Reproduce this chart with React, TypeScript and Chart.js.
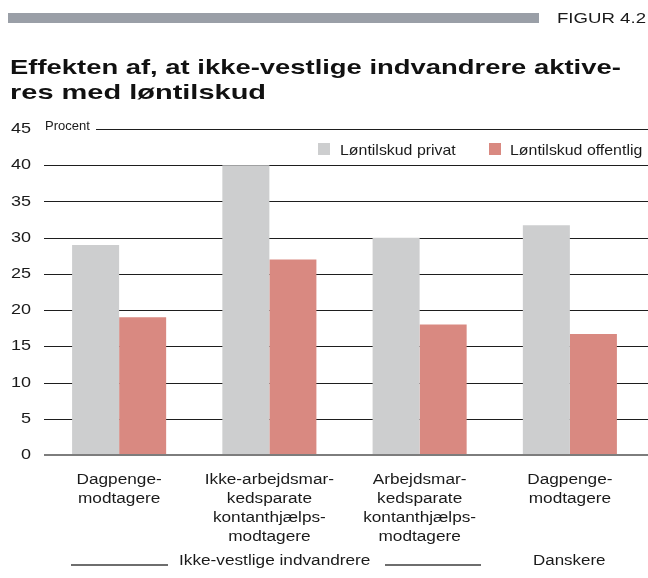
import React, { useEffect, useRef } from "react";
import { Chart, registerables } from "chart.js";

Chart.register(...registerables);

// ---------- data ----------
const categories: string[][] = [
  ["Dagpenge-", "modtagere"],
  ["Ikke-arbejdsmar-", "kedsparate", "kontanthjælps-", "modtagere"],
  ["Arbejdsmar-", "kedsparate", "kontanthjælps-", "modtagere"],
  ["Dagpenge-", "modtagere"],
];
const privatValues = [29, 40, 30, 31.7];
const offentligValues = [19, 27, 18, 16.7];
const seriesLabels = ["Løntilskud privat", "Løntilskud offentlig"];
const seriesColors = ["#cdcecf", "#d98981"];
const yMin = 0;
const yMax = 45;
const yStep = 5;
const groupLabels = ["Ikke-vestlige indvandrere", "Danskere"];
const titleLines = [
  "Effekten af, at ikke-vestlige indvandrere aktive-",
  "res med løntilskud",
];
const figureLabel = "FIGUR 4.2";
const unitLabel = "Procent";

const FONT = '"Liberation Sans", Arial, Helvetica, sans-serif';
const TEXT = "#1a1a1a";

// widen canvas text glyphs horizontally (the source typeface is wider)
const textWidenPlugin = {
  id: "textWiden",
  beforeDraw(chart: any) {
    const ctx = chart.ctx;
    if (ctx.__widened) return;
    ctx.__widened = true;
    const orig = ctx.fillText.bind(ctx);
    ctx.fillText = (text: string, x: number, y: number, maxW?: number) => {
      const k = ctx.textAlign === "right" ? 1.2 : 1.23;
      ctx.save();
      ctx.translate(x, y);
      ctx.scale(k, 1);
      if (maxW === undefined) orig(text, 0, 0);
      else orig(text, 0, 0, maxW / k);
      ctx.restore();
    };
  },
};

const gridPlugin = {
  id: "customGrid",
  beforeDatasetsDraw(chart: any) {
    const { ctx, chartArea } = chart;
    const y = chart.scales.y;
    ctx.save();
    ctx.strokeStyle = "#1e1e1e";
    ctx.lineWidth = 1;
    for (let v = yMin + yStep; v < yMax; v += yStep) {
      const py = Math.round(y.getPixelForValue(v)) + 0.5;
      ctx.beginPath();
      ctx.moveTo(chartArea.left, py);
      ctx.lineTo(chart.width, py);
      ctx.stroke();
    }
    const pyTop = Math.round(y.getPixelForValue(yMax)) + 0.5;
    ctx.beginPath();
    ctx.moveTo(96, pyTop);
    ctx.lineTo(chart.width, pyTop);
    ctx.stroke();
    ctx.restore();
  },
  afterDatasetsDraw(chart: any) {
    const { ctx, chartArea } = chart;
    const y = chart.scales.y;
    const py = Math.round(y.getPixelForValue(yMin));
    ctx.save();
    ctx.fillStyle = "#7d7d7d";
    ctx.fillRect(chartArea.left, py - 1, chart.width - chartArea.left, 2);
    ctx.restore();
  },
};

export default function App() {
  const canvasRef = useRef<HTMLCanvasElement | null>(null);

  useEffect(() => {
    if (!canvasRef.current) return;
    const chart = new Chart(canvasRef.current, {
      type: "bar",
      data: {
        labels: categories,
        datasets: [
          {
            label: seriesLabels[0],
            data: privatValues,
            backgroundColor: seriesColors[0],
            borderWidth: 0,
          },
          {
            label: seriesLabels[1],
            data: offentligValues,
            backgroundColor: seriesColors[1],
            borderWidth: 0,
          },
        ],
      },
      options: {
        responsive: false,
        animation: false,
        devicePixelRatio: 1,
        layout: { padding: { top: 129, right: 3, left: 0, bottom: 0 } },
        datasets: {
          bar: { categoryPercentage: 0.626, barPercentage: 1 },
        },
        plugins: {
          legend: { display: false },
          tooltip: { enabled: false },
          title: { display: false },
        },
        scales: {
          x: {
            grid: { display: false, drawTicks: false },
            border: { display: false },
            ticks: {
              color: TEXT,
              font: { family: FONT, size: 14, lineHeight: 1.36 },
              padding: 16,
              maxRotation: 0,
              autoSkip: false,
            },
            afterFit: (scale: any) => {
              scale.height = 123;
            },
          },
          y: {
            min: yMin,
            max: yMax,
            grid: { display: false, drawTicks: false },
            border: { display: false },
            ticks: {
              stepSize: yStep,
              color: TEXT,
              font: { family: FONT, size: 15 },
              padding: 13,
            },
            afterFit: (scale: any) => {
              scale.width = 44;
            },
          },
        },
      },
      plugins: [textWidenPlugin, gridPlugin],
    });
    return () => chart.destroy();
  }, []);

  const abs = (o: React.CSSProperties): React.CSSProperties => ({
    position: "absolute",
    whiteSpace: "nowrap",
    ...o,
  });
  const wide = (k: number): React.CSSProperties => ({
    transform: `scaleX(${k})`,
    transformOrigin: "0 0",
  });

  return (
    <div
      style={{
        position: "absolute",
        left: 0,
        top: 0,
        width: 648,
        height: 578,
        background: "#fff",
        overflow: "hidden",
        fontFamily: FONT,
        color: TEXT,
      }}
    >
      <canvas
        ref={canvasRef}
        width={648}
        height={578}
        style={{ position: "absolute", left: 0, top: 0, width: 648, height: 578 }}
      />
      <div style={abs({ left: 8, top: 13, width: 531, height: 10, background: "#9a9fa7" })} />
      <div style={abs({ left: 557, top: 10, fontSize: 14, lineHeight: "16px", ...wide(1.33) })}>
        {figureLabel}
      </div>
      <div style={abs({ left: 10, top: 53.5, fontSize: 21, fontWeight: 700, lineHeight: "25px", color: "#111", ...wide(1.305) })}>
        {titleLines[0]}
      </div>
      <div style={abs({ left: 10, top: 78.5, fontSize: 21, fontWeight: 700, lineHeight: "25px", color: "#111", ...wide(1.38) })}>
        {titleLines[1]}
      </div>
      <div style={abs({ left: 45, top: 118, fontSize: 13, lineHeight: "15px" })}>{unitLabel}</div>
      {/* legend */}
      <div style={abs({ left: 317.5, top: 143, width: 12, height: 12, background: seriesColors[0] })} />
      <div style={abs({ left: 340, top: 140.8, fontSize: 15, lineHeight: "18px", ...wide(1.06) })}>
        {seriesLabels[0]}
      </div>
      <div style={abs({ left: 488.5, top: 143, width: 12, height: 12, background: seriesColors[1] })} />
      <div style={abs({ left: 510, top: 140.8, fontSize: 15, lineHeight: "18px", ...wide(1.06) })}>
        {seriesLabels[1]}
      </div>
      {/* group labels */}
      <div style={abs({ left: 70.7, top: 564, width: 97.6, height: 2, background: "#6e6e6e" })} />
      <div style={abs({ left: 179.3, top: 552, fontSize: 14, lineHeight: "16px", ...wide(1.23) })}>
        {groupLabels[0]}
      </div>
      <div style={abs({ left: 385, top: 564, width: 95.7, height: 2, background: "#6e6e6e" })} />
      <div style={abs({ left: 532.7, top: 552, fontSize: 14, lineHeight: "16px", ...wide(1.21) })}>
        {groupLabels[1]}
      </div>
    </div>
  );
}
